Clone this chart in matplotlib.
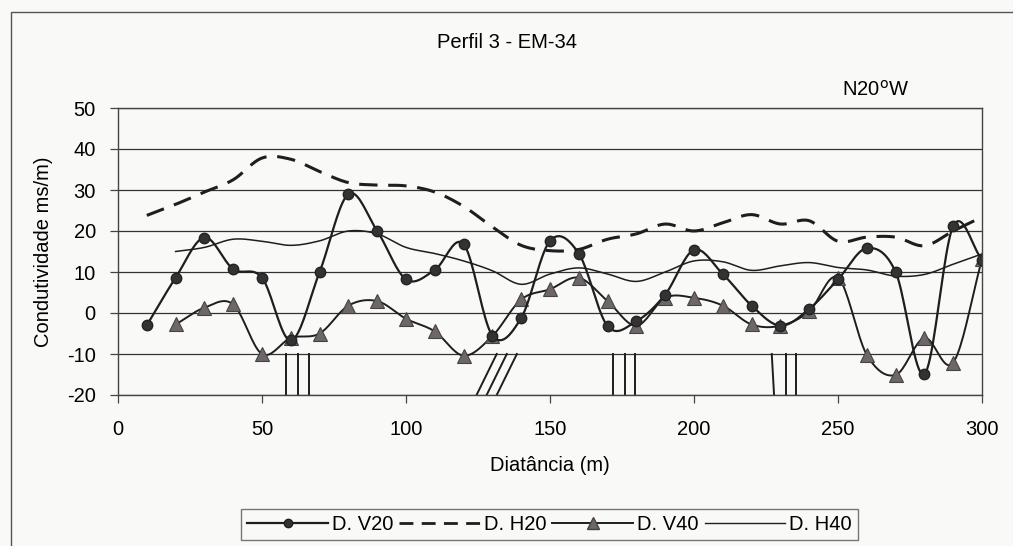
import numpy as np
import matplotlib.pyplot as plt
from matplotlib.lines import Line2D
from matplotlib.patches import Rectangle

plt.rcParams['font.family'] = ['Liberation Sans', 'DejaVu Sans']
plt.rcParams['axes.unicode_minus'] = False

# distancias (m) e leituras (ms/m)
dist_v20 = [10, 20, 30, 40, 50, 60, 70, 80, 90, 100, 110, 120, 130, 140, 150,
            160, 170, 180, 190, 200, 210, 220, 230, 240, 250, 260, 270, 280, 290, 300]
dv20 = [-3, 8.6, 18.4, 10.7, 8.6, -6.7, 10, 29, 20, 8.2, 10.5, 16.8, -5.5, -1.2, 17.6,
        14.5, -3.2, -2, 4.5, 15.4, 9.5, 1.8, -3.1, 1, 8.2, 15.8, 10, -14.9, 21.2, 13]

dist_h20 = dist_v20
dh20 = [23.8, 26.5, 29.5, 32.5, 37.8, 37.5, 34.5, 31.8, 31.2, 31, 29.5, 26, 21, 16.5, 15.2,
        15.5, 18, 19.3, 21.7, 20, 22, 24, 21.7, 22.5, 17.5, 18.5, 18.5, 16.4, 20, 23.4]

dist_v40 = dist_v20[1:]
dv40 = [-2.8, 1.3, 2.1, -10, -6.1, -5, 1.8, 2.9, -1.4, -4.5, -10.4, -5.6, 3.3, 5.8,
        8.6, 2.9, -3.1, 3.7, 3.7, 1.8, -2.8, -3.1, 0.4, 8.6, -10.2, -15.1, -6.1, -12.1, 13.1]

dist_h40 = dist_v20[1:]
dh40 = [15, 16, 18, 17.5, 16.5, 17.6, 20, 19.3, 16, 14.5, 12.7, 10.3, 7, 9.5,
        11, 9.5, 7.7, 10, 12.7, 12.5, 10.4, 11.5, 12.3, 11.1, 10.5, 9, 9.4, 11.9, 14.4]

# marcas de fraturas (x no fundo, x no topo)
fraturas = [(58.3, 58.3), (62.6, 62.6), (66.3, 66.3),
            (124.5, 131.5), (128, 135), (131.5, 138.5),
            (172, 172), (176, 176), (179.5, 179.5),
            (227.8, 227), (231.8, 231.8), (235.3, 235.3)]


def suave(x, y, n=20):
    # curva suavizada tipo Excel (Catmull-Rom)
    x = np.asarray(x, float)
    y = np.asarray(y, float)
    px = np.concatenate([[2 * x[0] - x[1]], x, [2 * x[-1] - x[-2]]])
    py = np.concatenate([[2 * y[0] - y[1]], y, [2 * y[-1] - y[-2]]])
    t = np.linspace(0, 1, n, endpoint=False)[:, None]
    xs = []
    for p in (px, py):
        p0, p1, p2, p3 = p[:-3], p[1:-2], p[2:-1], p[3:]
        c = 0.5 * ((2 * p1) + (-p0 + p2) * t + (2 * p0 - 5 * p1 + 4 * p2 - p3) * t ** 2
                   + (-p0 + 3 * p1 - 3 * p2 + p3) * t ** 3)
        xs.append(np.concatenate([c.T.ravel(), [p[-2]]]))
    return xs[0], xs[1]


fig = plt.figure(figsize=(10.13, 5.46), dpi=100)
fig.patch.set_facecolor('#f9f9f7')
ax = fig.add_axes([118 / 1013, 1 - 395 / 546, 864 / 1013, 287 / 546])
ax.set_facecolor('#f9f9f7')

ax.set_xlim(0, 300)
ax.set_ylim(-20, 50)
ax.set_xticks([0, 50, 100, 150, 200, 250, 300])
ax.set_yticks(range(-20, 51, 10))
ax.yaxis.grid(True, color='#333333', linewidth=0.9)
ax.set_axisbelow(True)
for s in ax.spines.values():
    s.set_color('#444444')
    s.set_linewidth(1.0)
ax.tick_params(axis='both', labelsize=14.5, length=6, color='#444444', width=0.9)
ax.tick_params(axis='x', pad=12)
ax.tick_params(axis='y', pad=10)

cor = '#1e1e1e'
x, y = suave(dist_h20, dh20)
ax.plot(x, y, color=cor, lw=2.2, dashes=(6, 3.5))
x, y = suave(dist_h40, dh40)
ax.plot(x, y, color=cor, lw=1.1)
x, y = suave(dist_v40, dv40)
ax.plot(x, y, color=cor, lw=1.4)
ax.plot(dist_v40, dv40, ls='none', marker='^', ms=10, mfc='#6e6668', mec='#444444', mew=0.8)
x, y = suave(dist_v20, dv20)
ax.plot(x, y, color=cor, lw=1.6)
ax.plot(dist_v20, dv20, ls='none', marker='o', ms=7.5, mfc='#333333', mec='#222222')

for xb, xt in fraturas:
    ax.plot([xb, xt], [-20, -10], color=cor, lw=1.4)

ax.set_xlabel('Diatância (m)', fontsize=14.5, labelpad=12)
ax.set_ylabel('Condutividade ms/m)', fontsize=14.5, labelpad=10)
fig.text(437 / 1013, 1 - 42 / 546, 'Perfil 3 - EM-34', ha='left', va='center', fontsize=14.5)
fig.text(842 / 1013, 1 - 90 / 546, 'N20$^{\\mathrm{o}}$W', ha='left', va='center', fontsize=14.5)

# moldura externa
fig.patches.append(Rectangle((11 / 1013, -0.1), 1.2, 1.1 - 12 / 546, transform=fig.transFigure,
                             fill=False, edgecolor='#555555', lw=1.0))

handles = [Line2D([], [], color=cor, lw=1.6, marker='o', ms=6, mfc='#333333'),
           Line2D([], [], color=cor, lw=2.0, dashes=(5, 3)),
           Line2D([], [], color=cor, lw=1.4, marker='^', ms=8, mfc='#6e6668', mec='#444444'),
           Line2D([], [], color=cor, lw=1.0)]
leg = fig.legend(handles, ['D. V20', 'D. H20', 'D. V40', 'D. H40'], ncol=4,
                 loc='center', bbox_to_anchor=(549.5 / 1013, 1 - 524.5 / 546),
                 fontsize=14.5, handlelength=4.0, handletextpad=0.2, columnspacing=0.3,
                 frameon=True, fancybox=False, borderpad=0.3)
leg.get_frame().set_edgecolor('#555555')
leg.get_frame().set_facecolor('#f9f9f7')
leg.get_frame().set_linewidth(1.0)

fig.savefig('out.png', dpi=100, facecolor=fig.get_facecolor())
